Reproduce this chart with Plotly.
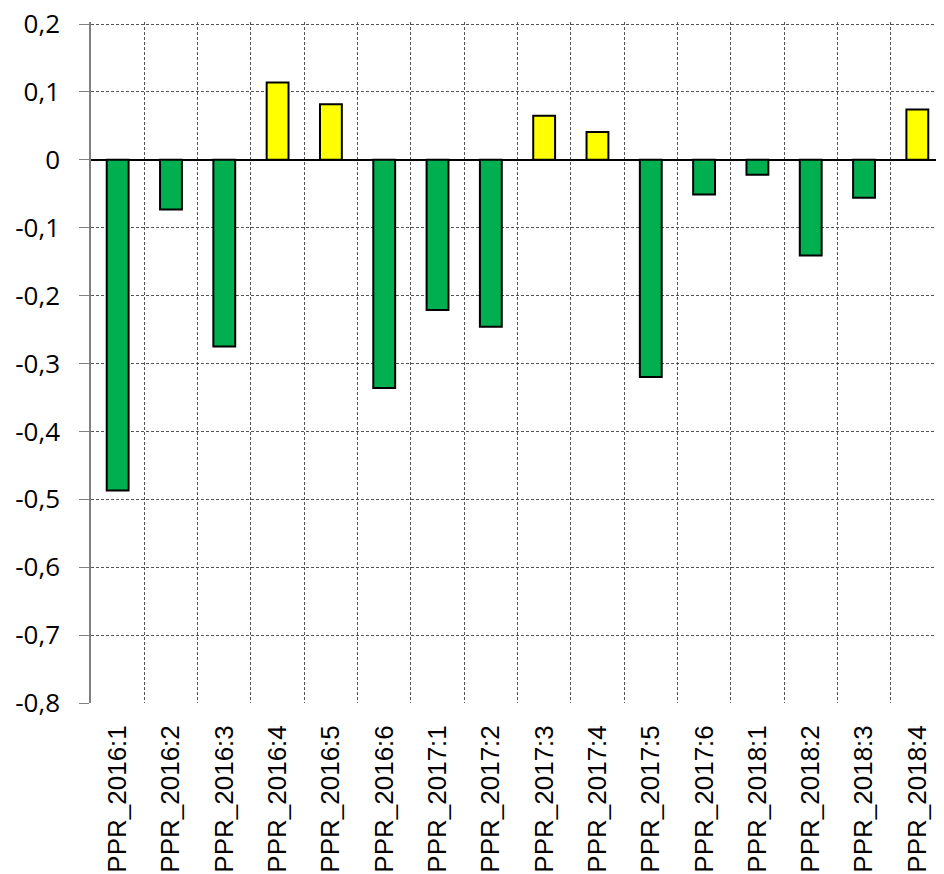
import plotly.graph_objects as go

categories = ["PPR_2016:1", "PPR_2016:2", "PPR_2016:3", "PPR_2016:4", "PPR_2016:5", "PPR_2016:6",
              "PPR_2017:1", "PPR_2017:2", "PPR_2017:3", "PPR_2017:4", "PPR_2017:5", "PPR_2017:6",
              "PPR_2018:1", "PPR_2018:2", "PPR_2018:3", "PPR_2018:4"]
values = [-0.487, -0.073, -0.275, 0.114, 0.082, -0.336, -0.221, -0.246,
          0.065, 0.041, -0.320, -0.051, -0.022, -0.141, -0.056, 0.074]
y_ticks = [0.2, 0.1, 0, -0.1, -0.2, -0.3, -0.4, -0.5, -0.6, -0.7, -0.8]
y_tick_labels = ["0,2", "0,1", "0", "-0,1", "-0,2", "-0,3", "-0,4", "-0,5", "-0,6", "-0,7", "-0,8"]

POS_COLOR = "#FFFF00"
NEG_COLOR = "#00B050"
colors = [POS_COLOR if v >= 0 else NEG_COLOR for v in values]

fig = go.Figure(go.Bar(
    x=categories, y=values, width=0.41,
    marker=dict(color=colors, line=dict(color="black", width=2)),
))

fig.update_layout(
    width=936, height=866,
    margin=dict(l=83, r=0, t=14, b=171),
    plot_bgcolor="white", paper_bgcolor="white",
    showlegend=False,
    font=dict(family="Liberation Sans", color="black"),
)
fig.update_xaxes(
    type="category", tickson="boundaries", tickangle=-90,
    showgrid=True, gridcolor="#555555", gridwidth=1, griddash="3px,2px",
    ticks="", showline=False, zeroline=False, automargin=False,
    tickfont=dict(size=26, family="Liberation Sans"),
    ticklabelstandoff=16,
    range=[-0.5, 15.5],
)
fig.update_yaxes(
    range=[-0.8, 0.203], tickvals=y_ticks, ticktext=y_tick_labels,
    showgrid=True, gridcolor="#555555", gridwidth=1, griddash="3px,2px",
    zeroline=True, zerolinecolor="black", zerolinewidth=1.5,
    showline=True, linecolor="#808080", linewidth=1.5, automargin=False,
    ticks="outside", ticklen=10, tickcolor="#808080",
    tickfont=dict(size=26, family="Open Sans"),
    ticklabelstandoff=14, ticklabeloverflow="allow",
)

fig.write_html("out.html")
